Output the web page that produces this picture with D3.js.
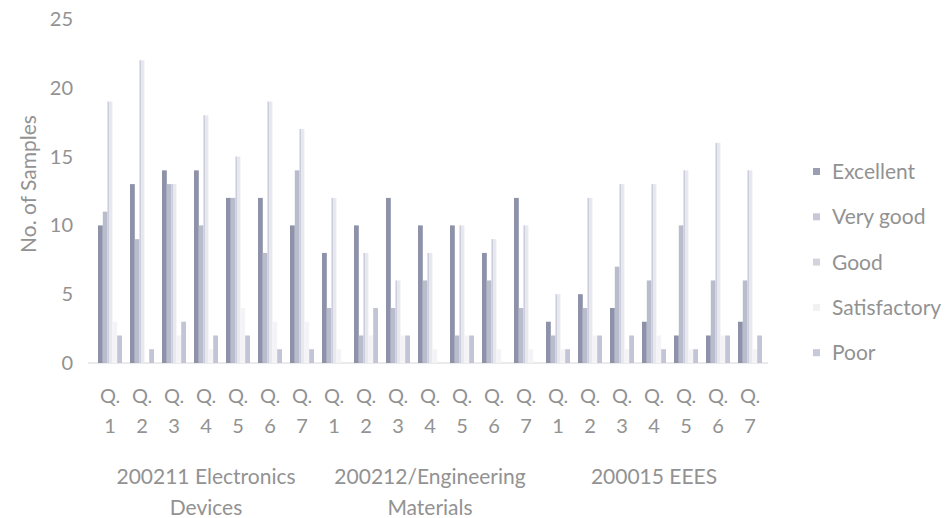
<!DOCTYPE html>
<html><head><meta charset="utf-8">
<script src="https://cdn.jsdelivr.net/npm/d3@7"></script>
<style>
html,body{margin:0;padding:0;background:#fff;}
svg{display:block;font-family:Lato,"Open Sans",sans-serif;}
</style></head>
<body>
<svg id="chart" width="949" height="518"></svg>
<script>
const courses = [["200211 Electronics","Devices"],["200212/Engineering","Materials"],["200015 EEES"]];
const questions = ["1","2","3","4","5","6","7"];
const seriesNames = ["Excellent","Very good","Good","Satisfactory","Poor"];
const excellent    = [10,13,14,14,12,12,10,  8,10,12,10,10, 8,12,  3, 5, 4, 3, 2, 2, 3];
const veryGood     = [11, 9,13,10,12, 8,14,  4, 2, 4, 6, 2, 6, 4,  2, 4, 7, 6,10, 6, 6];
const good         = [19,22,13,18,15,19,17, 12, 8, 6, 8,10, 9,10,  5,12,13,13,14,16,14];
const satisfactory = [ 3, 0, 2, 1, 4, 3, 3,  1, 2, 2, 1, 2, 1, 1,  1, 2, 1, 2, 1, 2, 1];
const poor         = [ 2, 1, 3, 2, 2, 1, 1,  0, 4, 2, 0, 2, 0, 0,  1, 2, 2, 1, 1, 2, 2];
const yTicks = [0,5,10,15,20,25];

const seriesValues = [excellent, veryGood, good, satisfactory, poor];
const fills = ["#8e92a8","#b9bccc","#e8e9f0","#f4f4f7","#c2c5d5"];
const legendFills = ["#9b9eb2","#c6c8d5","#d2d3dd","#f1f1f4","#c6c9d7"];
const textColor = "#929292";

const groups = [];
courses.forEach((c,ci)=>questions.forEach((q,qi)=>groups.push({ci,qi,q,idx:ci*7+qi})));

const svg = d3.select("#chart");
const x0 = d3.scaleBand().domain(d3.range(groups.length)).range([94,766]).paddingInner(0.25).paddingOuter(0.125);
const x1 = d3.scaleBand().domain(seriesNames).range([0,x0.bandwidth()]);
const y = d3.scaleLinear().domain([0,25]).range([363,19]);

// y axis
const yAxis = svg.append("g").attr("transform","translate(80,0)")
  .call(d3.axisLeft(y).tickValues(yTicks).tickSize(0).tickPadding(7));
yAxis.select(".domain").remove();
yAxis.selectAll("text").attr("fill",textColor).style("font-size","20px").style("font-family","Lato");

// y title
svg.append("text").attr("transform","translate(36,184) rotate(-90)")
  .attr("text-anchor","middle").attr("fill",textColor).style("font-size","21px").text("No. of Samples");

// baseline
svg.append("line").attr("x1",88).attr("x2",768).attr("y1",y(0)).attr("y2",y(0))
  .attr("stroke","#d6d6d6").attr("stroke-width",1);

// bars
const gg = svg.append("g").selectAll("g").data(groups).join("g")
  .attr("transform",d=>`translate(${x0(d.idx)},0)`);
seriesNames.forEach((s,si)=>{
  gg.append("rect")
    .attr("x",x1(s)).attr("width",x1.bandwidth())
    .attr("y",d=>y(seriesValues[si][d.idx]))
    .attr("height",d=>y(0)-y(seriesValues[si][d.idx]))
    .attr("fill",fills[si]);
});
// faint edge of the light "Good" bars
gg.append("rect")
  .attr("x",x1("Good")).attr("width",1.3)
  .attr("y",d=>y(good[d.idx]))
  .attr("height",d=>y(0)-y(good[d.idx]))
  .attr("fill","#c9cbd9");

// category labels
const lab = svg.append("g").selectAll("g").data(groups).join("g")
  .attr("transform",d=>`translate(${x0(d.idx)+x0.bandwidth()/2},0)`);
lab.append("text").attr("y",403).attr("text-anchor","middle").attr("fill",textColor)
  .style("font-size","20px").text("Q.");
lab.append("text").attr("y",433).attr("text-anchor","middle").attr("fill",textColor)
  .style("font-size","20px").text(d=>d.q);

// course labels
courses.forEach((lines,ci)=>{
  const cx = (x0(ci*7)+x0(ci*7+6)+x0.bandwidth())/2;
  lines.forEach((t,li)=>{
    svg.append("text").attr("x",cx).attr("y",484+li*31).attr("text-anchor","middle")
      .attr("fill",textColor).style("font-size","21px").text(t);
  });
});

// legend
const lg = svg.append("g").selectAll("g").data(seriesNames).join("g")
  .attr("transform",(d,i)=>`translate(813,${172+i*45.3})`);
lg.append("rect").attr("x",0).attr("y",-4).attr("width",7).attr("height",7)
  .attr("fill",(d,i)=>legendFills[i]);
lg.append("text").attr("x",19).attr("y",7).attr("fill",textColor)
  .style("font-size","21px").text(d=>d);
</script>
</body></html>
